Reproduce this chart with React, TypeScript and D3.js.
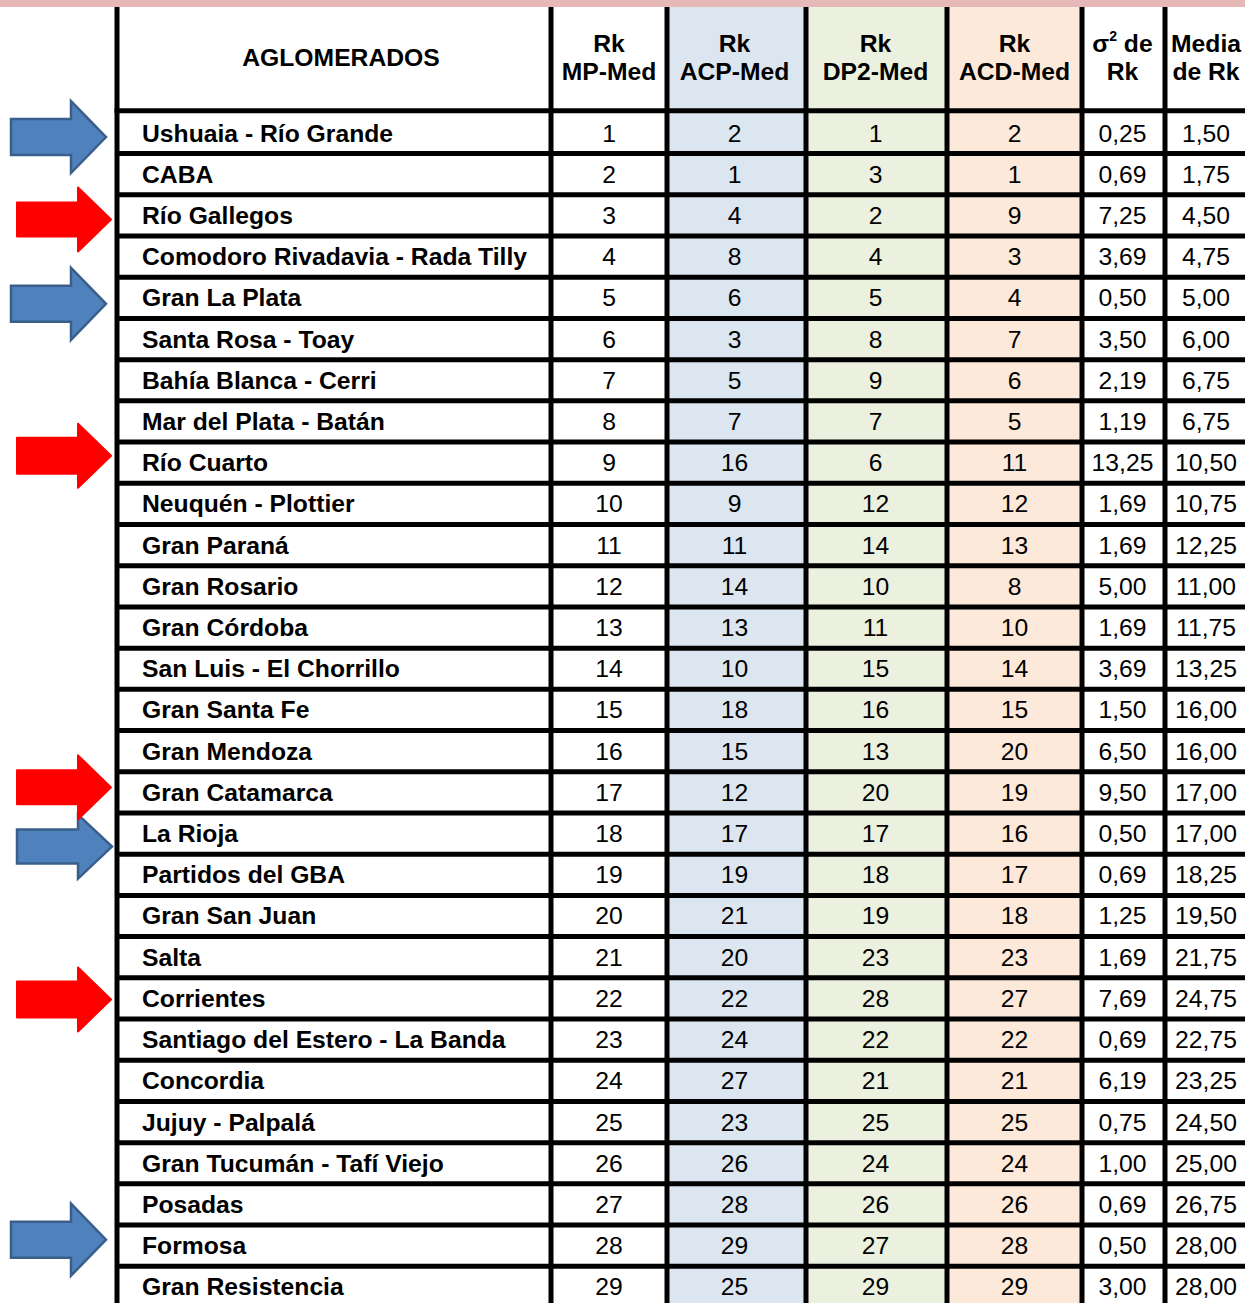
import React from "react";
import * as d3 from "d3";

const names = [
  "Ushuaia - Río Grande", "CABA", "Río Gallegos", "Comodoro Rivadavia - Rada Tilly",
  "Gran La Plata", "Santa Rosa - Toay", "Bahía Blanca - Cerri", "Mar del Plata - Batán",
  "Río Cuarto", "Neuquén - Plottier", "Gran Paraná", "Gran Rosario", "Gran Córdoba",
  "San Luis - El Chorrillo", "Gran Santa Fe", "Gran Mendoza", "Gran Catamarca",
  "La Rioja", "Partidos del GBA", "Gran San Juan", "Salta", "Corrientes",
  "Santiago del Estero - La Banda", "Concordia", "Jujuy - Palpalá",
  "Gran Tucumán - Tafí Viejo", "Posadas", "Formosa", "Gran Resistencia",
];
const rkMP = [1,2,3,4,5,6,7,8,9,10,11,12,13,14,15,16,17,18,19,20,21,22,23,24,25,26,27,28,29];
const rkACP = [2,1,4,8,6,3,5,7,16,9,11,14,13,10,18,15,12,17,19,21,20,22,24,27,23,26,28,29,25];
const rkDP2 = [1,3,2,4,5,8,9,7,6,12,14,10,11,15,16,13,20,17,18,19,23,28,22,21,25,24,26,27,29];
const rkACD = [2,1,9,3,4,7,6,5,11,12,13,8,10,14,15,20,19,16,17,18,23,27,22,21,25,24,26,28,29];
const varRk = [0.25,0.69,7.25,3.69,0.50,3.50,2.19,1.19,13.25,1.69,1.69,5.00,1.69,3.69,1.50,6.50,9.50,0.50,0.69,1.25,1.69,7.69,0.69,6.19,0.75,1.00,0.69,0.50,3.00];
const meanRk = [1.50,1.75,4.50,4.75,5.00,6.00,6.75,6.75,10.50,10.75,12.25,11.00,11.75,13.25,16.00,16.00,17.00,17.00,18.25,19.50,21.75,24.75,22.75,23.25,24.50,25.00,26.75,28.00,28.00];
const blueArrowRows = ["Ushuaia - Río Grande", "Gran La Plata", "La Rioja", "Formosa"];
const redArrowRows = ["Río Gallegos", "Río Cuarto", "Gran Catamarca", "Corrientes"];

const W = 1245;
const H = 1303;
const FONT = "'Liberation Sans', Arial, sans-serif";
const FS = 24.7;
const LINE = 5;

// column boundaries (line centres)
const colEdges = [117, 551, 667, 806, 947, 1082, 1165, 1249];
const colFills = ["#ffffff", "#ffffff", "#dce6f1", "#ebf1de", "#fde9d9", "#ffffff", "#ffffff"];
const colShift = [0, 0, -2, -1, 0, -1, -1];

const fmt2 = (v: number) => d3.format(".2f")(v).replace(".", ",");

// arrow annotation styles: dy = offset of tip from row centre
const arrowStyle: Record<string, { L: number; Hx: number; T: number; h1: number; h2: number; dy: number }> = {
  "Ushuaia - Río Grande": { L: 11, Hx: 71, T: 106, h1: 18, h2: 36, dy: 4 },
  "Gran La Plata": { L: 11, Hx: 71, T: 106, h1: 18, h2: 36, dy: 6 },
  "La Rioja": { L: 17, Hx: 78, T: 112, h1: 17, h2: 32, dy: 13 },
  "Formosa": { L: 11, Hx: 71, T: 106, h1: 18, h2: 36, dy: -6 },
  "Río Gallegos": { L: 17, Hx: 78, T: 111, h1: 17, h2: 32, dy: 4 },
  "Río Cuarto": { L: 17, Hx: 78, T: 111, h1: 18, h2: 32, dy: -7 },
  "Gran Catamarca": { L: 17, Hx: 78, T: 111, h1: 17, h2: 32, dy: -5 },
  "Corrientes": { L: 17, Hx: 78, T: 111, h1: 18, h2: 32, dy: 1 },
};

export default function App() {
  const y = d3.scaleBand<string>().domain(names).range([112.4, 112.4 + 29 * 41.21]).padding(0);
  const bw = y.bandwidth();
  const cx = (i: number) => (colEdges[i] + colEdges[i + 1]) / 2 + colShift[i];
  const columns: (string)[][] = [
    rkMP.map(String), rkACP.map(String), rkDP2.map(String), rkACD.map(String),
    varRk.map(fmt2), meanRk.map(fmt2),
  ];

  const arrowPath = (name: string) => {
    const s = arrowStyle[name];
    const c = (y(name) as number) + bw / 2 + s.dy;
    const p = d3.path();
    p.moveTo(s.L, c - s.h1);
    p.lineTo(s.Hx, c - s.h1);
    p.lineTo(s.Hx, c - s.h2);
    p.lineTo(s.T, c);
    p.lineTo(s.Hx, c + s.h2);
    p.lineTo(s.Hx, c + s.h1);
    p.lineTo(s.L, c + s.h1);
    p.closePath();
    return p.toString();
  };

  const headerY1 = 52;
  const headerY2 = 80;
  const headers = [
    ["Rk", "MP-Med"], ["Rk", "ACP-Med"], ["Rk", "DP2-Med"], ["Rk", "ACD-Med"],
  ];

  return (
    <svg width={W} height={H} style={{ position: "absolute", left: 0, top: 0, display: "block", background: "#fff" }}
      fontFamily={FONT}>
      {/* column backgrounds */}
      {colFills.map((f, i) => (
        <rect key={"bg" + i} x={colEdges[i]} y={7} width={colEdges[i + 1] - colEdges[i]} height={H - 7} fill={f} />
      ))}
      {/* top band */}
      <rect x={0} y={0} width={W} height={7} fill="#e6b8b7" />

      {/* header text */}
      <text x={341} y={57 + 8.5} fontSize={FS} fontWeight="bold" textAnchor="middle">AGLOMERADOS</text>
      {headers.map((h, i) => (
        <g key={"h" + i} fontSize={FS} fontWeight="bold" textAnchor="middle">
          <text x={cx(i + 1)} y={headerY1}>{h[0]}</text>
          <text x={cx(i + 1)} y={headerY2}>{h[1]}</text>
        </g>
      ))}
      <g fontSize={FS} fontWeight="bold" textAnchor="middle">
        <text x={cx(5)} y={headerY1}>
          σ<tspan fontSize={14} dy={-11}>2</tspan><tspan dy={11}> de</tspan>
        </text>
        <text x={cx(5)} y={headerY2}>Rk</text>
        <text x={cx(6)} y={headerY1}>Media</text>
        <text x={cx(6)} y={headerY2}>de Rk</text>
      </g>

      {/* row names */}
      {names.map((n) => (
        <text key={n} x={142} y={(y(n) as number) + bw / 2 + 8.5} fontSize={FS} fontWeight="bold">{n}</text>
      ))}
      {/* values */}
      {columns.map((col, ci) => (
        <g key={"c" + ci} fontSize={FS} textAnchor="middle">
          {col.map((v, ri) => (
            <text key={ri} x={cx(ci + 1)} y={(y(names[ri]) as number) + bw / 2 + 8.5}>{v}</text>
          ))}
        </g>
      ))}

      {/* horizontal lines */}
      <line x1={colEdges[0] - LINE / 2} x2={W} y1={110.8} y2={110.8} stroke="#000" strokeWidth={LINE} />
      {names.slice(1).map((n) => (
        <line key={"hl" + n} x1={colEdges[0]} x2={W} y1={y(n) as number} y2={y(n) as number} stroke="#000" strokeWidth={LINE} />
      ))}
      {/* vertical lines */}
      {colEdges.slice(0, 7).map((x, i) => (
        <line key={"vl" + i} x1={x} x2={x} y1={7} y2={H} stroke="#000" strokeWidth={LINE} />
      ))}

      {/* arrows */}
      {blueArrowRows.map((n) => (
        <path key={"ba" + n} d={arrowPath(n)} fill="#4f81bd" stroke="#3a5f8b" strokeWidth={2.5} strokeLinejoin="miter" />
      ))}
      {redArrowRows.map((n) => (
        <path key={"ra" + n} d={arrowPath(n)} fill="#ff0000" stroke="#ff0000" strokeWidth={2} strokeLinejoin="round" />
      ))}
    </svg>
  );
}
